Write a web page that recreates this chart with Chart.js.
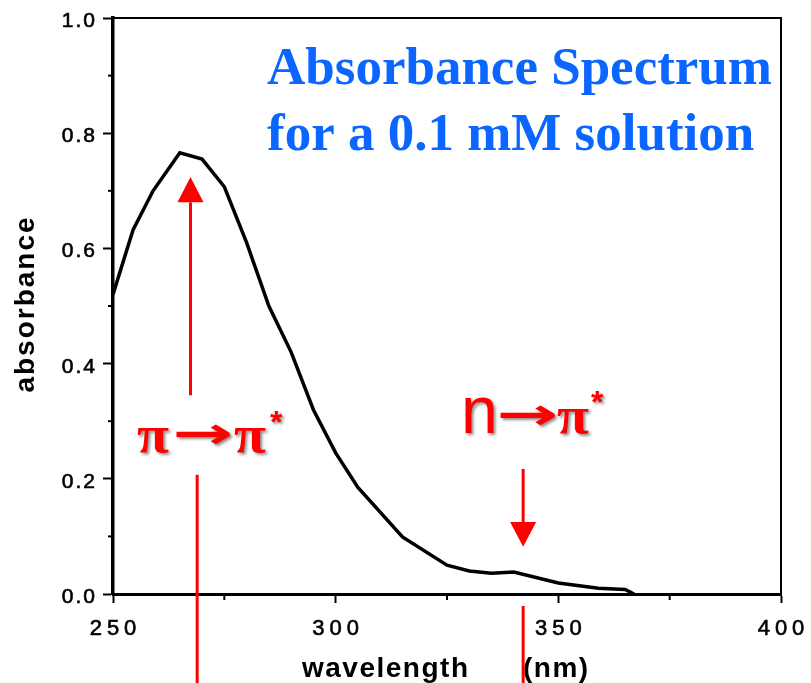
<!DOCTYPE html>
<html>
<head>
<meta charset="utf-8">
<script src="https://cdn.jsdelivr.net/npm/chart.js@4.4.1/dist/chart.umd.min.js"></script>
<style>
  html, body { margin: 0; padding: 0; background: #fff; }
  #wrap { width: 811px; height: 683px; position: relative; }
</style>
</head>
<body>
<div id="wrap"><canvas id="chart"></canvas></div>
<script>
const wavelengths = [250, 254.5, 259, 265, 270, 275, 280, 285, 290, 295, 300, 305, 315, 325, 330, 335, 340, 350, 359, 365, 367];
const absorbance  = [0.52, 0.632, 0.70, 0.766, 0.755, 0.707, 0.61, 0.50, 0.42, 0.32, 0.245, 0.185, 0.099, 0.05, 0.04, 0.036, 0.038, 0.019, 0.01, 0.008, 0.0];

const xTicks = [250, 300, 350, 400];
const xMinorTicks = [275, 325, 375];
const yTicks = [0.0, 0.2, 0.4, 0.6, 0.8, 1.0];
const yMinorTicks = [0.1, 0.3, 0.5, 0.7, 0.9];

const titleLines = ['Absorbance Spectrum', 'for a 0.1 mM solution'];

// setas das transições (coordenadas de dados)
const piArrow = { x: 267.4, from: 0.345, head: 0.68, tip: 0.724 };
const piStem  = { x: 268.9, from: 0.207 };
const nArrow  = { x: 342.1, from: 0.217, head: 0.125, tip: 0.082 };
const nStem   = { x: 342.1, from: -0.021 };

const RED = '#ff0000';

function drawText(ctx, text, font, x, y, opts = {}) {
    ctx.save();
    ctx.font = font;
    ctx.letterSpacing = opts.spacing || '0px';
    ctx.textAlign = opts.align || 'left';
    ctx.textBaseline = opts.baseline || 'alphabetic';
    ctx.fillStyle = opts.color || '#000';
    ctx.translate(x, y);
    if (opts.width) {
        const w = ctx.measureText(text).width;
        ctx.scale(opts.width / w, 1);
    }
    ctx.fillText(text, 0, 0);
    if (opts.stroke) {
        ctx.shadowColor = 'transparent';
        ctx.strokeStyle = opts.color || '#000';
        ctx.lineWidth = opts.stroke;
        ctx.strokeText(text, 0, 0);
    }
    ctx.restore();
}

function arrow(ctx, xp, y0, yHead, yTip) {
    ctx.beginPath();
    ctx.moveTo(xp, y0);
    ctx.lineTo(xp, yHead);
    ctx.stroke();
    ctx.beginPath();
    ctx.moveTo(xp - 13, yHead);
    ctx.lineTo(xp + 13, yHead);
    ctx.lineTo(xp, yTip);
    ctx.closePath();
    ctx.fill();
}

const decorPlugin = {
    id: 'decor',
    afterDraw(chart) {
        const { ctx, chartArea: a, scales: { x, y } } = chart;

        // moldura superior e direita
        ctx.save();
        ctx.strokeStyle = '#000';
        ctx.lineWidth = 2;
        ctx.beginPath();
        ctx.moveTo(a.left, a.top);
        ctx.lineTo(a.right, a.top);
        ctx.lineTo(a.right, a.bottom);
        ctx.stroke();

        // ticks menores
        yMinorTicks.forEach(v => {
            const py = y.getPixelForValue(v);
            ctx.beginPath(); ctx.moveTo(a.left - 5, py); ctx.lineTo(a.left, py); ctx.stroke();
        });
        xMinorTicks.forEach(v => {
            const px = x.getPixelForValue(v);
            ctx.beginPath(); ctx.moveTo(px, a.bottom); ctx.lineTo(px, a.bottom + 6); ctx.stroke();
        });
        ctx.restore();

        // rótulos dos ticks
        yTicks.forEach(v => {
            drawText(ctx, v.toFixed(1), '21px "Liberation Sans", Arial, sans-serif',
                a.left - 16, y.getPixelForValue(v) + 9, { align: 'right', spacing: '2px', stroke: 0.6 });
        });
        xTicks.forEach(v => {
            drawText(ctx, String(v), '22px "Liberation Sans", Arial, sans-serif',
                x.getPixelForValue(v) + 2.5, 635, { align: 'center', spacing: '5px', stroke: 0.6 });
        });

        // títulos dos eixos
        ctx.save();
        ctx.translate(34, 304);
        ctx.rotate(-Math.PI / 2);
        drawText(ctx, 'absorbance', 'bold 28px "Liberation Sans", Arial, sans-serif', 0, 0, { align: 'center', spacing: '2px' });
        ctx.restore();
        drawText(ctx, 'wavelength', 'bold 28px "Liberation Sans", Arial, sans-serif', 302, 677, { spacing: '1.5px' });
        drawText(ctx, '(nm)', 'bold 28px "Liberation Sans", Arial, sans-serif', 523, 677, { spacing: '1.5px' });

        // título azul
        const titleFont = 'bold 53px "Liberation Serif", "Times New Roman", serif';
        drawText(ctx, titleLines[0], titleFont, 267, 84, { color: '#0a66ff' });
        drawText(ctx, titleLines[1], titleFont, 267, 150, { color: '#0a66ff' });

        // setas vermelhas
        ctx.save();
        ctx.strokeStyle = RED;
        ctx.fillStyle = RED;
        ctx.lineWidth = 3;
        arrow(ctx, x.getPixelForValue(piArrow.x), y.getPixelForValue(piArrow.from),
            y.getPixelForValue(piArrow.head), y.getPixelForValue(piArrow.tip));
        arrow(ctx, x.getPixelForValue(nArrow.x), y.getPixelForValue(nArrow.from),
            y.getPixelForValue(nArrow.head), y.getPixelForValue(nArrow.tip));
        ctx.beginPath();
        ctx.moveTo(x.getPixelForValue(piStem.x), y.getPixelForValue(piStem.from));
        ctx.lineTo(x.getPixelForValue(piStem.x), chart.height);
        ctx.moveTo(x.getPixelForValue(nStem.x), y.getPixelForValue(nStem.from));
        ctx.lineTo(x.getPixelForValue(nStem.x), chart.height);
        ctx.stroke();
        ctx.restore();

        // rótulos das transições
        ctx.save();
        ctx.shadowColor = 'rgba(0,0,0,0.45)';
        ctx.shadowOffsetX = 2;
        ctx.shadowOffsetY = 2;
        ctx.shadowBlur = 3;
        const piFont = 'bold 52px "Liberation Serif", "DejaVu Serif", serif';
        const arrFont = 'bold 44px "DejaVu Sans", sans-serif';
        const starFont = 'bold 32px "Liberation Sans", sans-serif';
        drawText(ctx, 'π', piFont, 137, 452, { color: RED, width: 32 });
        drawText(ctx, '→', arrFont, 172, 448, { color: RED, width: 61 });
        drawText(ctx, 'π', piFont, 234, 452, { color: RED, width: 32 });
        drawText(ctx, '*', starFont, 270, 433, { color: RED });

        drawText(ctx, 'n', '66px "Liberation Sans", Arial, sans-serif', 461, 433, { color: RED });
        drawText(ctx, '→', arrFont, 496, 429, { color: RED, width: 62 });
        drawText(ctx, 'π', piFont, 557, 433, { color: RED, width: 32 });
        drawText(ctx, '*', starFont, 591, 413, { color: RED });
        ctx.restore();
    }
};

new Chart(document.getElementById('chart'), {
    type: 'line',
    data: {
        datasets: [{
            data: wavelengths.map((w, i) => ({ x: w, y: absorbance[i] })),
            borderColor: '#000',
            borderWidth: 3.5,
            pointRadius: 0,
            tension: 0,
            fill: false
        }]
    },
    options: {
        responsive: true,
        maintainAspectRatio: false,
        animation: false,
        layout: { padding: { top: 18, right: 30, left: 0, bottom: 0 } },
        plugins: { legend: { display: false }, tooltip: { enabled: false } },
        scales: {
            x: {
                type: 'linear',
                min: 250,
                max: 400,
                afterBuildTicks: s => { s.ticks = xTicks.map(v => ({ value: v })); },
                afterFit: s => { s.height = 89; },
                ticks: { display: false },
                grid: { drawOnChartArea: false, drawTicks: true, tickLength: 9, tickWidth: 2, tickColor: '#000' },
                border: { display: true, color: '#000', width: 3 }
            },
            y: {
                min: 0,
                max: 1,
                afterBuildTicks: s => { s.ticks = yTicks.map(v => ({ value: v })); },
                afterFit: s => { s.width = 113; },
                ticks: { display: false },
                grid: { drawOnChartArea: false, drawTicks: true, tickLength: 10, tickWidth: 2, tickColor: '#000' },
                border: { display: true, color: '#000', width: 3.5 }
            }
        }
    },
    plugins: [decorPlugin]
});
</script>
</body>
</html>
